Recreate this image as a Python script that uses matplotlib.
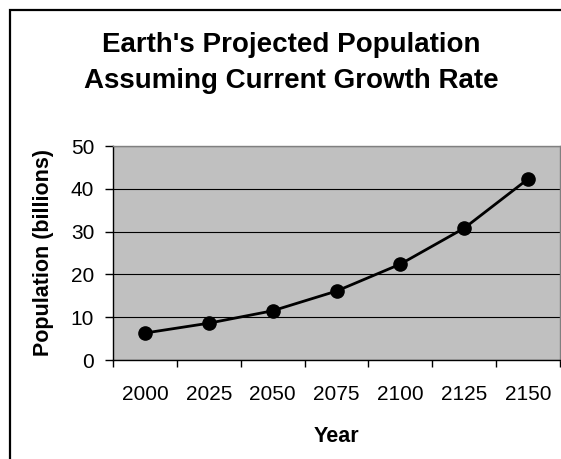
import matplotlib
matplotlib.use("Agg")
import matplotlib.pyplot as plt
from matplotlib.patches import Rectangle

# projected population, billions
years = ["2000", "2025", "2050", "2075", "2100", "2125", "2150"]
population = [6.3, 8.6, 11.5, 16.1, 22.4, 30.8, 42.3]
y_ticks = [0, 10, 20, 30, 40, 50]
title_lines = ["Earth's Projected Population", "Assuming Current Growth Rate"]

plt.rcParams['font.family'] = ['Liberation Sans', 'DejaVu Sans']

W, H = 561, 459
fig = plt.figure(figsize=(W / 100, H / 100), dpi=100)
ax = fig.add_axes([113 / W, 1 - 360 / H, (560 - 113) / W, (360 - 146) / H])

# chart frame (top/left edges only show)
fig.patches.append(Rectangle((10 / W, -0.1), 1.2, 1 - 10 / H + 0.1,
                             transform=fig.transFigure, fill=False,
                             edgecolor='black', linewidth=1.6, clip_on=False))

ax.set_facecolor('#c0c0c0')
for s in ['top', 'right']:
    ax.spines[s].set_color('#808080')
    ax.spines[s].set_linewidth(1.0)
for s in ['left', 'bottom']:
    ax.spines[s].set_color('black')
    ax.spines[s].set_linewidth(1.0)

x = list(range(len(years)))
ax.plot(x, population, color='black', linewidth=2.0, marker='o',
        markersize=9.5, zorder=3)

ax.set_xlim(-0.5, len(years) - 0.5)
ax.set_ylim(0, 50)
ax.set_yticks(y_ticks)
ax.yaxis.grid(True, color='black', linewidth=0.8)
ax.set_axisbelow(True)

ax.set_xticks(x)
ax.set_xticklabels(years)
ax.set_xticks([i - 0.5 for i in range(len(years) + 1)], minor=True)
ax.tick_params(axis='x', which='major', length=0, pad=18, labelsize=15)
ax.tick_params(axis='x', which='minor', length=5, width=1.0, direction='out')
ax.tick_params(axis='y', length=6, width=1.0, pad=7.5, labelsize=15)

for i, line in enumerate(title_lines):
    fig.text(291 / W, 1 - (52 + 36 * i) / H, line, ha='center',
             va='baseline', fontsize=20, fontweight='bold')
fig.text(336 / W, 1 - 437 / H, "Year", ha='center', va='center',
         fontsize=15.5, fontweight='bold')
fig.text(44 / W, 1 - 253 / H, "Population (billions)", ha='center',
         va='center', rotation=90, fontsize=15.5, fontweight='bold')

fig.savefig("out.png", dpi=100)
